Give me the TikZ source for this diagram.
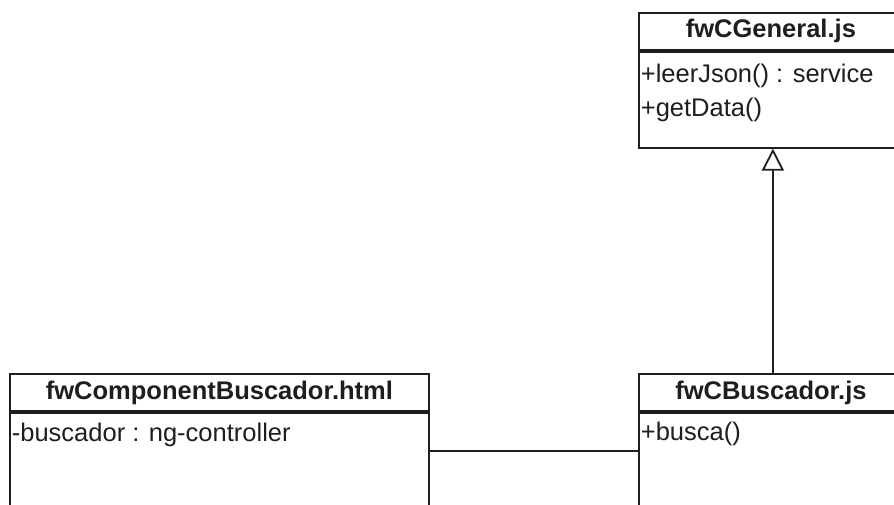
\documentclass[tikz,border=0pt]{standalone}
\usepackage{fontspec}
\setmainfont{Liberation Sans}
\usetikzlibrary{arrows.meta,positioning}
\definecolor{ink}{HTML}{1E1E1E}

\begin{document}
\begin{tikzpicture}[x=1pt,y=-1pt,line width=1.8pt,
    every node/.style={text=ink},
    cname/.style={draw=ink,minimum height=37pt,inner sep=0pt,anchor=north west,
      font=\bfseries\fontsize{25.5}{25.5}\selectfont},
    cbody/.style={draw=ink,inner sep=0pt},
    attr/.style={anchor=west,inner sep=2pt,font=\fontsize{25.5}{25.5}\selectfont},
    inherit/.style={draw=ink,-{Triangle[open,length=22pt,width=22pt]}},
    assoc/.style={draw=ink},
   ]
   \useasboundingbox (0,0) rectangle (894,504);
   \clip (0,0) rectangle (894,504);
   % classes
   \node[cname,minimum width=264pt] (genT) at (638,12) {fwCGeneral.js};
   \node[cbody,below=0pt of genT,minimum width=264pt,minimum height=96pt] (genB) {};
   \node[attr] (leer) at ([yshift=-25pt]genB.north west) {+leerJson() : service};
   \node[attr] (getd) at ([yshift=-59pt]genB.north west) {+getData()};

   \node[cname,minimum width=419pt] (compT) at (9,373) {fwComponentBuscador.html};
   \node[cbody,below=0pt of compT,minimum width=419pt,minimum height=150pt] (compB) {};
   \node[attr] (ctrl) at ([yshift=-23pt]compB.north west) {-buscador : ng-controller};

   \node[cname,minimum width=264pt] (buscT) at (638,373) {fwCBuscador.js};
   \node[cbody,below=0pt of buscT,minimum width=264pt,minimum height=150pt] (buscB) {};
   \node[attr] (busca) at ([yshift=-22pt]buscB.north west) {+busca()};
   % relations
   \draw[inherit] ([xshift=2pt]buscT.north) -- ([xshift=2pt]genB.south);
   \draw[assoc] ([yshift=-39pt]compB.north east) -- ([yshift=-39pt]buscB.north west);
\end{tikzpicture}
\end{document}
